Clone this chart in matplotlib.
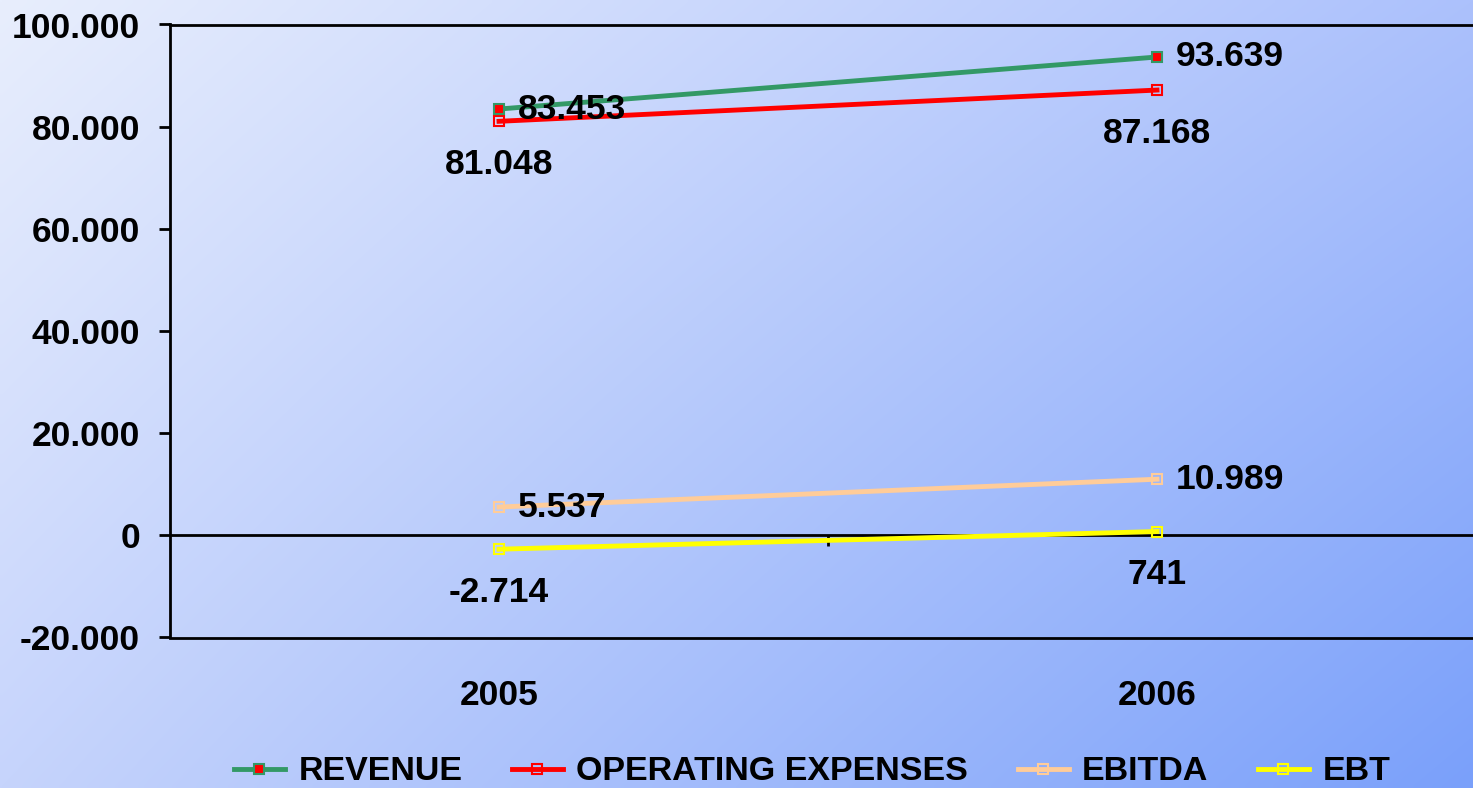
import matplotlib.pyplot as plt
import numpy as np
from matplotlib.ticker import FuncFormatter

# data
years = ['2005', '2006']
revenue = [83453, 93639]
opex = [81048, 87168]
ebitda = [5537, 10989]
ebt = [-2714, 741]

series_names = ['REVENUE', 'OPERATING EXPENSES', 'EBITDA', 'EBT']
y_ticks = [-20000, 0, 20000, 40000, 60000, 80000, 100000]

plt.rcParams['font.family'] = ['Liberation Sans', 'DejaVu Sans']
plt.rcParams['font.weight'] = 'bold'


def fmt(v):
    return '{:,.0f}'.format(v).replace(',', '.')


fig = plt.figure(figsize=(14.73, 7.88), dpi=100)

# background gradient
bg = fig.add_axes([0, 0, 1, 1], zorder=-10)
tl = np.array([232, 238, 253]) / 255
tr = np.array([172, 193, 252]) / 255
bl = np.array([198, 212, 252]) / 255
br = np.array([122, 160, 250]) / 255
u = np.linspace(0, 1, 300)[None, :, None]
v = np.linspace(0, 1, 160)[:, None, None]
grad = (1 - v) * ((1 - u) * tl + u * tr) + v * ((1 - u) * bl + u * br)
bg.imshow(grad, aspect='auto', extent=[0, 1, 0, 1], interpolation='bilinear')
bg.axis('off')

W, H = 1473, 788
ax = fig.add_axes([170 / W, (H - 637.5) / H, 1316 / W, 613 / H])
ax.patch.set_alpha(0)

x = np.arange(len(years))
fs = 25.5

ax.plot(x, revenue, color='#339966', lw=3.5, marker='s', ms=7,
        mfc='#FF0000', mec='#339966', mew=1.5, label=series_names[0], zorder=5)
ax.plot(x, opex, color='#FF0000', lw=3.5, marker='s', ms=7,
        mfc='none', mec='#FF0000', mew=1.5, label=series_names[1], zorder=4)
ax.plot(x, ebitda, color='#FFCC99', lw=3.5, marker='s', ms=7,
        mfc='none', mec='#FFCC99', mew=1.5, label=series_names[2], zorder=4)
ax.plot(x, ebt, color='#FFFF00', lw=3.5, marker='s', ms=7,
        mfc='none', mec='#FFFF00', mew=1.5, label=series_names[3], zorder=4)

# data labels: right of point or below point
for vals in (revenue, ebitda):
    for xi, val in zip(x, vals):
        ax.annotate(fmt(val), (xi, val), xytext=(19, 0), textcoords='offset pixels',
                    ha='left', va='center', fontsize=fs, fontweight='bold', zorder=6)
for vals in (opex, ebt):
    for xi, val in zip(x, vals):
        ax.annotate(fmt(val), (xi, val), xytext=(0, -43), textcoords='offset pixels',
                    ha='center', va='center', fontsize=fs, fontweight='bold', zorder=6)

ax.axhline(0, color='black', lw=2, zorder=3)

ax.set_xlim(-0.5, 1.5)
ax.set_ylim(-20000, 100000)
ax.set_yticks(y_ticks)
ax.yaxis.set_major_formatter(FuncFormatter(lambda v, p: fmt(v)))
ax.set_xticks(x)
ax.set_xticklabels(years)
ax.tick_params(axis='y', direction='out', length=8, width=2, pad=13.5, labelsize=fs)
ax.tick_params(axis='x', length=0, pad=30, labelsize=fs)
for lab in ax.get_xticklabels() + ax.get_yticklabels():
    lab.set_fontweight('bold')

for s in ['left', 'top', 'bottom']:
    ax.spines[s].set_linewidth(2)
ax.spines['right'].set_visible(False)

# small category tick on the zero line
sec = ax.secondary_xaxis(20000 / 120000)
sec.set_xticks([0.5])
sec.set_xticklabels([''])
sec.tick_params(length=8, width=2, direction='out')
sec.spines['bottom'].set_visible(False)

fig.legend(loc='center', bbox_to_anchor=(812 / W, 1 - 772 / H), ncol=4,
           frameon=False, handlelength=1.5, handletextpad=0.4,
           columnspacing=1.45, prop={'weight': 'bold', 'size': 24.5})

fig.savefig('out.png', dpi=100)
